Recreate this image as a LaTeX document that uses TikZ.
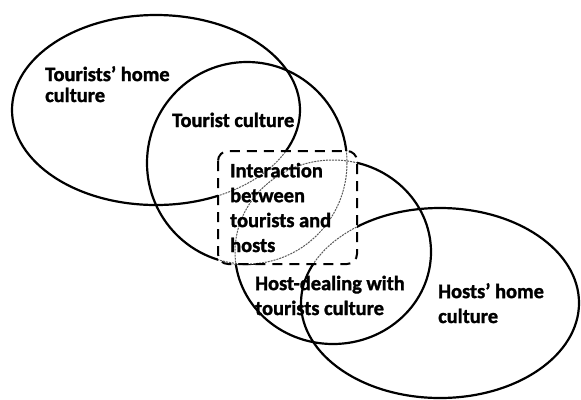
\documentclass[tikz,border=0pt]{standalone}
\usepackage{fontspec}
\setmainfont{Carlito}[BoldFeatures={FakeBold=1.5}]
\begin{document}
\begin{tikzpicture}[x=1bp,y=-1bp,
    ring/.style={line width=2.2bp},
    faintring/.style={line width=1bp, black!65, dash pattern=on 2bp off 1bp},
    culturetext/.style={inner sep=0pt, anchor=base west, align=left,
      font=\bfseries\fontsize{20.5}{25}\selectfont}]
  \useasboundingbox (0,0) rectangle (581,399);

  % solid outside the dashed box
  \begin{scope}[even odd rule]
    \clip (0,0) rectangle (581,399) (218,151) rectangle (357,264);
    \draw[ring] (156,110) ellipse [x radius=144, y radius=95];
    \draw[ring] (247,163) ellipse [x radius=100, y radius=101];
    \draw[ring] (333,252) ellipse [x radius=98, y radius=92];
    \draw[ring] (440,303) ellipse [x radius=139, y radius=95];
  \end{scope}
  % faint inside it
  \begin{scope}
    \clip (218,151) rectangle (357,264);
    \draw[faintring] (156,110) ellipse [x radius=144, y radius=95];
    \draw[faintring] (247,163) ellipse [x radius=100, y radius=101];
    \draw[faintring] (333,252) ellipse [x radius=98, y radius=92];
    \draw[faintring] (440,303) ellipse [x radius=139, y radius=95];
  \end{scope}

  \draw[line width=2bp, dash pattern=on 10bp off 7bp, rounded corners=10bp] (218,151) rectangle (357,264);

  % base anchors sit on the last line
  \node[culturetext, font=\bfseries\fontsize{20.5}{21}\selectfont] (homet) at (45,102) {Tourists’ home\\culture};
  \node[culturetext] (tourist) at (172,127) {Tourist culture};
  \node[culturetext] (interaction) at (230,252) {Interaction\\between\\tourists and\\hosts};
  \node[culturetext] (hostdeal) at (255,315) {Host-dealing with\\tourists culture};
  \node[culturetext] (hosthome) at (438,323) {Hosts’ home\\culture};
\end{tikzpicture}
\end{document}
